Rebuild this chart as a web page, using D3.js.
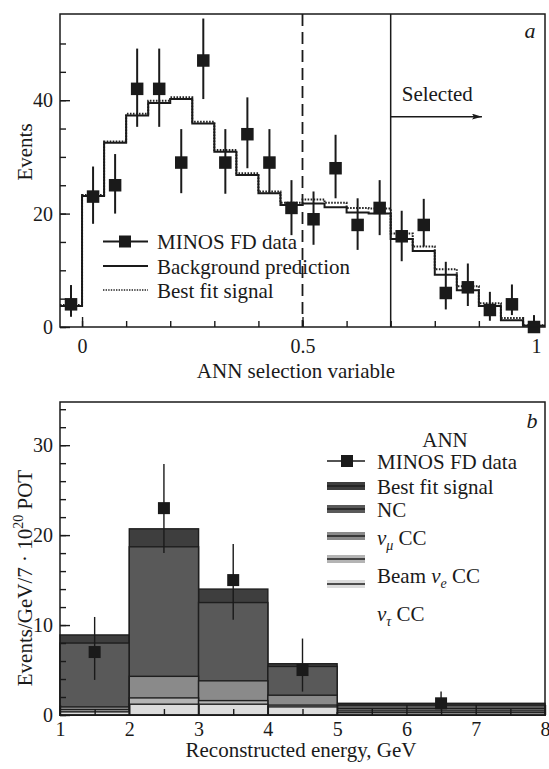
<!DOCTYPE html>
<html>
<head>
<meta charset="utf-8">
<script src="https://cdn.jsdelivr.net/npm/d3@7"></script>
<style>
  body { margin: 0; background: #fff; }
  text { font-family: "Liberation Serif", "Times New Roman", serif; fill: #1a1a1a; }
</style>
</head>
<body>
<svg id="chart" width="549" height="769"></svg>
<script>
// ---- panel a : ANN selection variable ----
const annEdges = [-0.05, 0, 0.05, 0.1, 0.15, 0.2, 0.25, 0.3, 0.35, 0.4, 0.45, 0.5, 0.55, 0.6, 0.65, 0.7, 0.75, 0.8, 0.85, 0.9, 0.95, 1.0, 1.05];
const annCenters = [-0.025, 0.025, 0.075, 0.125, 0.175, 0.225, 0.275, 0.325, 0.375, 0.425, 0.475, 0.525, 0.575, 0.625, 0.675, 0.725, 0.775, 0.825, 0.875, 0.925, 0.975, 1.025];
const bkgPred = [3.7, 23.1, 32.5, 37.3, 39.5, 40.2, 35.9, 30.9, 26.8, 23.6, 21.5, 21.8, 21.1, 20.2, 20.0, 15.5, 13.4, 9.2, 6.5, 3.7, 1.2, 0.2];
const bestFit = [3.9, 23.3, 32.7, 37.6, 39.9, 40.5, 36.2, 31.2, 27.1, 23.9, 21.9, 22.5, 21.9, 21.0, 20.9, 16.5, 14.2, 10.2, 7.2, 4.2, 1.6, 0.3];
const annData = [4, 23, 25, 42, 42, 29, 47, 29, 34, 29, 21, 19, 28, 18, 21, 16, 18, 6, 7, 3, 4, 0];
const annErrLo = [1.8, 18.2, 20.0, 35.3, 35.3, 23.6, 40.2, 23.5, 28.0, 23.5, 16.2, 14.5, 22.7, 13.6, 16.2, 11.6, 14.2, 3.1, 3.7, 1.1, 2.1, 0];
const annErrHi = [7.4, 28.3, 30.5, 49.1, 49.1, 34.9, 54.4, 34.9, 40.5, 34.9, 25.9, 23.9, 33.9, 22.7, 25.9, 20.5, 22.6, 11.5, 11.2, 6.2, 7.5, 2.1];
const annTicks = [0, 0.5, 1];
const eventTicks = [0, 20, 40];

// ---- panel b : reconstructed energy ----
const energyEdges = [1, 2, 3, 4, 5, 8];
const nuTauCC = [0.35, 1.2, 1.2, 0.9, 0.25];
const beamNueCC = [0.25, 0.7, 0.4, 0.2, 0.2];
const numuCC = [0.3, 2.4, 2.2, 1.1, 0.25];
const ncBkg = [7.1, 14.4, 8.7, 3.2, 0.4];
const fitSignal = [0.9, 2.0, 1.5, 0.3, 0.2];
const energyCenters = [1.5, 2.5, 3.5, 4.5, 6.5];
const energyData = [7, 23, 15, 5, 1.3];
const energyErrLo = [3.9, 18.0, 10.6, 2.6, 0.6];
const energyErrHi = [10.9, 27.9, 19.0, 8.5, 2.6];
const energyTicks = [1, 2, 3, 4, 5, 6, 7, 8];
const rateTicks = [0, 10, 20, 30];

const svg = d3.select('#chart');

//Frame geometry of the two panels
const A = {left: 60, right: 545, top: 14, bottom: 327};
const B = {left: 60, right: 545, top: 402, bottom: 715};

// =========== panel a ===========
const xA = d3.scaleLinear().domain([-0.05, 1.05]).range([A.left, A.right]);
const yA = d3.scaleLinear().domain([0, 55.2]).range([A.bottom, A.top]);
const gA = svg.append('g');

//axes (ticks point into the frame)
gA.append('g').attr('transform', `translate(0,${A.bottom})`)
  .call(d3.axisBottom(xA).tickValues(d3.range(0, 1.01, 0.1)).tickSize(-6).tickFormat(''))
  .call(g => g.select('.domain').remove());
const axA = gA.append('g').attr('transform', `translate(0,${A.bottom})`)
  .call(d3.axisBottom(xA).tickValues(annTicks).tickSize(-10).tickPadding(12)
    .tickFormat(d => d === 0 ? '0' : d === 1 ? '1' : d3.format('.1f')(d)))
  .call(g => g.select('.domain').remove());
axA.selectAll('text').attr('font-size', 20).attr('font-family', '"Liberation Serif", serif');
axA.selectAll('.tick').filter(d => d === 1).select('text').attr('x', 13);

gA.append('g').attr('transform', `translate(${A.left},0)`)
  .call(d3.axisLeft(yA).tickValues(d3.range(0, 55, 5)).tickSize(-6).tickFormat(''))
  .call(g => g.select('.domain').remove());
const ayA = gA.append('g').attr('transform', `translate(${A.left},0)`)
  .call(d3.axisLeft(yA).tickValues(eventTicks).tickSize(-10).tickPadding(7))
  .call(g => g.select('.domain').remove());
ayA.selectAll('text').attr('font-size', 20).attr('font-family', '"Liberation Serif", serif');
gA.selectAll('.tick line').attr('stroke', '#1a1a1a').attr('stroke-width', 1.4);

//step histograms
function stepPoints(edges, vals) {
  const pts = vals.map((v, i) => [edges[i], v]);
  pts.push([edges[edges.length - 1], vals[vals.length - 1]]);
  return pts;
}
const stepA = d3.line().x(d => xA(d[0])).y(d => yA(d[1])).curve(d3.curveStepAfter);
gA.append('path').attr('d', stepA(stepPoints(annEdges, bestFit)))
  .attr('fill', 'none').attr('stroke', '#222').attr('stroke-width', 2).attr('stroke-dasharray', '1.6,1.4');
gA.append('path').attr('d', stepA(stepPoints(annEdges, bkgPred)))
  .attr('fill', 'none').attr('stroke', '#1a1a1a').attr('stroke-width', 2);

//cut lines
gA.append('line').attr('x1', xA(0.5)).attr('x2', xA(0.5)).attr('y1', A.top).attr('y2', A.bottom)
  .attr('stroke', '#1a1a1a').attr('stroke-width', 1.8).attr('stroke-dasharray', '12,6');
gA.append('line').attr('x1', xA(0.7)).attr('x2', xA(0.7)).attr('y1', A.top).attr('y2', A.bottom)
  .attr('stroke', '#1a1a1a').attr('stroke-width', 1.5);

//arrow "Selected"
svg.append('defs').append('marker').attr('id', 'arrow')
  .attr('viewBox', '0 0 10 6').attr('refX', 10).attr('refY', 3)
  .attr('markerWidth', 10).attr('markerHeight', 6).attr('markerUnits', 'userSpaceOnUse')
  .attr('orient', 'auto')
  .append('path').attr('d', 'M0,0 L10,3 L0,6 L2,3 Z').attr('fill', '#1a1a1a');
gA.append('line').attr('x1', xA(0.7)).attr('x2', xA(0.907)).attr('y1', yA(37.1)).attr('y2', yA(37.1))
  .attr('stroke', '#1a1a1a').attr('stroke-width', 1.5).attr('marker-end', 'url(#arrow)');
gA.append('text').attr('x', xA(0.725)).attr('y', yA(39.9)).attr('font-size', 21).text('Selected');

//data points
function drawData(g, xs, ys, lo, hi, x, y, size, lw) {
  g.selectAll(null).data(xs).join('line')
    .attr('x1', d => x(d)).attr('x2', d => x(d))
    .attr('y1', (d, i) => y(lo[i])).attr('y2', (d, i) => y(hi[i]))
    .attr('stroke', '#1a1a1a').attr('stroke-width', lw);
  g.selectAll(null).data(xs).join('rect')
    .attr('x', d => x(d) - size / 2).attr('y', (d, i) => y(ys[i]) - size / 2)
    .attr('width', size).attr('height', size).attr('fill', '#1a1a1a');
}
drawData(gA, annCenters, annData, annErrLo, annErrHi, xA, yA, 12.5, 2);

//frame
gA.append('rect').attr('x', A.left).attr('y', A.top)
  .attr('width', A.right - A.left).attr('height', A.bottom - A.top)
  .attr('fill', 'none').attr('stroke', '#1a1a1a').attr('stroke-width', 1.5);

//legend a
const legA = gA.append('g');
legA.append('line').attr('x1', 103).attr('x2', 148).attr('y1', 241.5).attr('y2', 241.5)
  .attr('stroke', '#1a1a1a').attr('stroke-width', 2);
legA.append('rect').attr('x', 119).attr('y', 235.5).attr('width', 12).attr('height', 12).attr('fill', '#1a1a1a');
legA.append('line').attr('x1', 103).attr('x2', 148).attr('y1', 266).attr('y2', 266)
  .attr('stroke', '#1a1a1a').attr('stroke-width', 2);
legA.append('line').attr('x1', 103).attr('x2', 148).attr('y1', 290).attr('y2', 290)
  .attr('stroke', '#222').attr('stroke-width', 1.6).attr('stroke-dasharray', '1.4,1.2');
['MINOS FD data', 'Background prediction', 'Best fit signal'].forEach((t, i) => {
  legA.append('text').attr('x', 157).attr('y', [249, 274, 298][i]).attr('font-size', 21).text(t);
});

//labels a
gA.append('text').attr('x', 530).attr('y', 38).attr('font-size', 22)
  .attr('font-style', 'italic').attr('text-anchor', 'middle').text('a');
gA.append('text').attr('x', 296).attr('y', 378).attr('font-size', 21)
  .attr('text-anchor', 'middle').text('ANN selection variable');
gA.append('text').attr('transform', 'translate(32,152) rotate(-90)').attr('font-size', 21)
  .attr('text-anchor', 'middle').text('Events');

// =========== panel b ===========
const xB = d3.scaleLinear().domain([1, 8]).range([B.left, B.right]);
const yB = d3.scaleLinear().domain([0, 34.8]).range([B.bottom, B.top]);
const gB = svg.append('g');

//stacked components, bottom first
const layers = [
  {name: 'nutau', vals: nuTauCC, fill: '#dcdcdc'},
  {name: 'nue', vals: beamNueCC, fill: '#b4b4b4'},
  {name: 'numu', vals: numuCC, fill: '#8a8a8a'},
  {name: 'nc', vals: ncBkg, fill: '#595959'},
  {name: 'signal', vals: fitSignal, fill: '#3e3e3e'}
];
const table = energyCenters.map((c, i) => {
  const row = {i: i};
  layers.forEach(l => { row[l.name] = l.vals[i]; });
  return row;
});
const stacked = d3.stack().keys(layers.map(l => l.name))(table);
//draw top layer first so that lower ones sit on top of it
stacked.slice().reverse().forEach(s => {
  const layer = layers.find(l => l.name === s.key);
  gB.selectAll(null).data(s).join('rect')
    .attr('x', d => xB(energyEdges[d.data.i]))
    .attr('width', d => xB(energyEdges[d.data.i + 1]) - xB(energyEdges[d.data.i]))
    .attr('y', d => yB(d[1]))
    .attr('height', d => yB(0) - yB(d[1]))
    .attr('fill', layer.fill).attr('stroke', '#1e1e1e').attr('stroke-width', 1.4);
});

//axes b
gB.append('g').attr('transform', `translate(0,${B.bottom})`)
  .call(d3.axisBottom(xB).tickValues(d3.range(1.5, 8, 1)).tickSize(-6).tickFormat(''))
  .call(g => g.select('.domain').remove());
const axB = gB.append('g').attr('transform', `translate(0,${B.bottom})`)
  .call(d3.axisBottom(xB).tickValues(energyTicks).tickSize(-10).tickPadding(7).tickFormat(d3.format('d')))
  .call(g => g.select('.domain').remove());
axB.selectAll('text').attr('font-size', 20).attr('font-family', '"Liberation Serif", serif');
gB.append('g').attr('transform', `translate(${B.left},0)`)
  .call(d3.axisLeft(yB).tickValues(d3.range(0, 35, 2)).tickSize(-6).tickFormat(''))
  .call(g => g.select('.domain').remove());
const ayB = gB.append('g').attr('transform', `translate(${B.left},0)`)
  .call(d3.axisLeft(yB).tickValues(rateTicks).tickSize(-10).tickPadding(7))
  .call(g => g.select('.domain').remove());
ayB.selectAll('text').attr('font-size', 20).attr('font-family', '"Liberation Serif", serif');
gB.selectAll('.tick line').attr('stroke', '#1a1a1a').attr('stroke-width', 1.4);

drawData(gB, energyCenters, energyData, energyErrLo, energyErrHi, xB, yB, 12, 1.4);

gB.append('rect').attr('x', B.left).attr('y', B.top)
  .attr('width', B.right - B.left).attr('height', B.bottom - B.top)
  .attr('fill', 'none').attr('stroke', '#1a1a1a').attr('stroke-width', 1.5);

//legend b
const legB = gB.append('g');
legB.append('text').attr('x', 445).attr('y', 447).attr('font-size', 21).attr('text-anchor', 'middle').text('ANN');
legB.append('line').attr('x1', 327).attr('x2', 365).attr('y1', 461).attr('y2', 461)
  .attr('stroke', '#1a1a1a').attr('stroke-width', 1.4);
legB.append('rect').attr('x', 341).attr('y', 455).attr('width', 12).attr('height', 12).attr('fill', '#1a1a1a');
const swatches = [
  {y: 486, fill: '#3e3e3e'},
  {y: 509, fill: '#595959'},
  {y: 536, fill: '#8a8a8a'},
  {y: 559, fill: '#b4b4b4'},
  {y: 584, fill: '#dcdcdc'}
];
swatches.forEach(s => {
  legB.append('rect').attr('x', 327).attr('y', s.y - 4).attr('width', 38).attr('height', 8).attr('fill', s.fill);
  legB.append('line').attr('x1', 327).attr('x2', 365).attr('y1', s.y).attr('y2', s.y)
    .attr('stroke', '#1e1e1e').attr('stroke-width', 1.5);
});
const tx = 377;
legB.append('text').attr('x', tx).attr('y', 469).attr('font-size', 21).text('MINOS FD data');
legB.append('text').attr('x', tx).attr('y', 494).attr('font-size', 21).text('Best fit signal');
legB.append('text').attr('x', tx).attr('y', 517).attr('font-size', 21).text('NC');
function nuLabel(y, sub, pre) {
  const t = legB.append('text').attr('x', tx).attr('y', y).attr('font-size', 21);
  if (pre) t.append('tspan').text(pre + ' ');
  t.append('tspan').attr('font-style', 'italic').text('ν');
  t.append('tspan').attr('font-size', 14).attr('font-style', 'italic').attr('dy', 5).text(sub);
  t.append('tspan').attr('dy', -5).text(' CC');
}
nuLabel(545, 'μ');
nuLabel(583, 'e', 'Beam');
nuLabel(621, 'τ');

//labels b
gB.append('text').attr('x', 532).attr('y', 428).attr('font-size', 22)
  .attr('font-style', 'italic').attr('text-anchor', 'middle').text('b');
gB.append('text').attr('x', 301).attr('y', 757).attr('font-size', 21)
  .attr('text-anchor', 'middle').text('Reconstructed energy, GeV');
const yl = gB.append('text').attr('transform', 'translate(32,578) rotate(-90)')
  .attr('font-size', 21).attr('text-anchor', 'middle');
yl.append('tspan').text('Events/GeV/7 · 10');
yl.append('tspan').attr('font-size', 14).attr('dy', -9).text('20');
yl.append('tspan').attr('dy', 9).text(' POT');
</script>
</body>
</html>
